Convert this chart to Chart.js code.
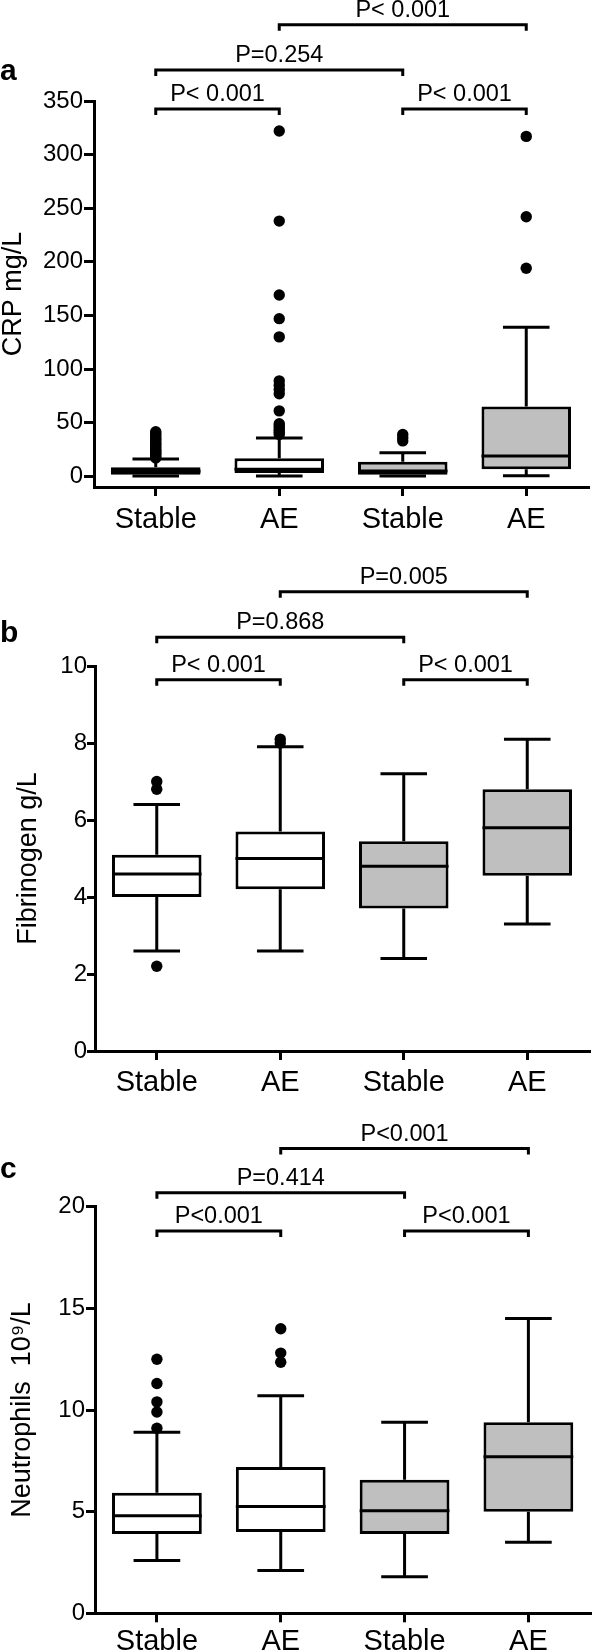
<!DOCTYPE html>
<html>
<head>
<meta charset="utf-8">
<script src="https://cdn.jsdelivr.net/npm/chart.js@4.4.1/dist/chart.umd.min.js"></script>
<style>
  html, body { margin: 0; padding: 0; background: #fff; }
  #wrap { position: relative; width: 596px; height: 1652px; overflow: hidden; }
  .panel { position: absolute; left: 0; width: 596px; }
  canvas { display: block; }
</style>
</head>
<body>
<div id="wrap">
  <div class="panel" style="top:0px"><canvas id="chartA" width="596" height="550"></canvas></div>
  <div class="panel" style="top:550px"><canvas id="chartB" width="596" height="560"></canvas></div>
  <div class="panel" style="top:1110px"><canvas id="chartC" width="596" height="542"></canvas></div>
</div>
<script>
var categories = ['Stable', 'AE', 'Stable', 'AE']
var boxColors = ['#ffffff', '#ffffff', '#bfbfbf', '#bfbfbf']

// a - CRP mg/L
var crpTicks = [0, 50, 100, 150, 200, 250, 300, 350]
var crpLow  = [0.3, 0.3, 0.3, 0.5]
var crpQ1   = [1.5, 3, 1.5, 6.5]
var crpMed  = [4.8, 6.5, 5, 19]
var crpQ3   = [8.5, 16.8, 13.5, 65]
var crpHigh = [16, 35.7, 22, 139]
var crpOutliers = [
  [17, 18.5, 20, 21, 22.5, 24, 25, 27, 28.5, 30, 31, 33, 34.5, 36, 38, 40, 41.5],
  [39, 41, 43, 45, 47, 49, 61, 77, 81, 85, 89, 130, 147, 169, 238, 322],
  [33, 36, 39],
  [194, 242, 317]
]
var crpBrackets = [[1, 3, 421, 'P< 0.001'], [0, 2, 379, 'P=0.254'], [0, 1, 342.6, 'P< 0.001'], [2, 3, 342.6, 'P< 0.001']]

// b - Fibrinogen g/L
var fibTicks = [0, 2, 4, 6, 8, 10]
var fibLow  = [2.6, 2.6, 2.4, 3.3]
var fibQ1   = [4.0, 4.2, 3.7, 4.55]
var fibMed  = [4.6, 5.0, 4.8, 5.8]
var fibQ3   = [5.1, 5.7, 5.45, 6.8]
var fibHigh = [6.4, 7.9, 7.2, 8.1]
var fibOutliers = [[2.2, 6.8, 7.0], [8.0, 8.1], [], []]
var fibBrackets = [[1, 3, 11.93, 'P=0.005'], [0, 2, 10.75, 'P=0.868'], [0, 1, 9.64, 'P< 0.001'], [2, 3, 9.64, 'P< 0.001']]

// c - Neutrophils 10^9/L
var neuTicks = [0, 5, 10, 15, 20]
var neuLow  = [2.6, 2.1, 1.8, 3.5]
var neuQ1   = [3.9, 4.0, 3.9, 5.0]
var neuMed  = [4.8, 5.25, 5.05, 7.7]
var neuQ3   = [5.93, 7.2, 6.57, 9.4]
var neuHigh = [8.9, 10.7, 9.4, 14.5]
var neuOutliers = [[9.1, 9.9, 10.4, 11.3, 12.5], [12.35, 12.8, 14.0], [], []]
var neuBrackets = [[1, 3, 22.86, 'P<0.001'], [0, 2, 20.69, 'P=0.414'], [0, 1, 18.8, 'P<0.001'], [2, 3, 18.8, 'P<0.001']]

var FONT = '"Liberation Sans", Arial, Helvetica, sans-serif'
Chart.defaults.font.family = FONT
Chart.defaults.color = '#000'

function makeBoxChart(id, p) {
  var outlierPoints = []
  p.outliers.forEach(function(list, i) {
    list.forEach(function(v) { outlierPoints.push({x: i, y: v}) })
  })

  var parts = {
    id: 'boxParts',
    afterDatasetsDraw: function(chart) {
      var ctx = chart.ctx, ys = chart.scales.y
      var bars = chart.getDatasetMeta(0).data
      ctx.save()
      ctx.strokeStyle = '#000'
      ctx.lineWidth = 3
      ctx.lineCap = 'butt'
      bars.forEach(function(bar, i) {
        var x = bar.x, w = bar.width, cap = w * 0.26
        var top = ys.getPixelForValue(p.q3[i]), bot = ys.getPixelForValue(p.q1[i])
        var hi = ys.getPixelForValue(p.high[i]), lo = ys.getPixelForValue(p.low[i])
        var med = ys.getPixelForValue(p.med[i])
        ctx.beginPath()
        ctx.moveTo(x, top); ctx.lineTo(x, hi)
        ctx.moveTo(x - cap, hi); ctx.lineTo(x + cap, hi)
        ctx.moveTo(x, bot); ctx.lineTo(x, lo)
        ctx.moveTo(x - cap, lo); ctx.lineTo(x + cap, lo)
        ctx.moveTo(x - w / 2, med); ctx.lineTo(x + w / 2, med)
        ctx.stroke()
      })
      ctx.restore()
    },
    afterDraw: function(chart) {
      var ctx = chart.ctx, xs = chart.scales.x, ys = chart.scales.y
      ctx.save()
      ctx.strokeStyle = '#000'
      ctx.fillStyle = '#000'
      ctx.lineWidth = 3
      ctx.lineJoin = 'miter'
      ctx.font = '23.5px ' + FONT
      ctx.textAlign = 'center'
      ctx.textBaseline = 'alphabetic'
      p.brackets.forEach(function(b) {
        var x1 = xs.getPixelForValue(b[0]), x2 = xs.getPixelForValue(b[1])
        var y = ys.getPixelForValue(b[2])
        ctx.beginPath()
        ctx.moveTo(x1, y + 6); ctx.lineTo(x1, y); ctx.lineTo(x2, y); ctx.lineTo(x2, y + 6)
        ctx.stroke()
        ctx.fillText(b[3], (x1 + x2) / 2, y - 8)
      })
      // panel letter
      ctx.font = 'bold 30px ' + FONT
      ctx.textAlign = 'left'
      ctx.fillText(p.letter, 0, p.letterY)
      ctx.restore()
    }
  }

  return new Chart(document.getElementById(id), {
    type: 'bar',
    data: {
      datasets: [
        {
          label: 'box',
          data: categories.map(function(c, i) { return {x: i, y: [p.q1[i], p.q3[i]]} }),
          backgroundColor: boxColors,
          borderColor: '#000',
          borderWidth: 3,
          borderSkipped: false,
          categoryPercentage: 1,
          barPercentage: 0.725
        },
        {
          type: 'scatter',
          label: 'outliers',
          data: outlierPoints,
          pointRadius: 5.7,
          pointHoverRadius: 5.7,
          pointBackgroundColor: '#000',
          pointBorderWidth: 0
        }
      ]
    },
    options: {
      responsive: false,
      animation: false,
      events: [],
      layout: { padding: { top: p.area.top, right: 596 - p.area.right, left: 0, bottom: 0 } },
      plugins: { legend: { display: false }, tooltip: { enabled: false } },
      scales: {
        x: {
          type: 'linear',
          min: -0.5,
          max: 3.5,
          offset: false,
          afterBuildTicks: function(axis) {
            axis.ticks = categories.map(function(c, i) { return {value: i} })
          },
          afterFit: function(s) { s.height = p.area.canvasH - p.area.bottom },
          ticks: {
            autoSkip: false, maxRotation: 0, minRotation: 0,
            padding: p.xPad,
            font: { size: 29, lineHeight: 1 },
            callback: function(v) { return categories[v] }
          },
          grid: { offset: false, drawOnChartArea: false, drawTicks: true, tickLength: 9, lineWidth: 3, color: '#000' },
          border: { display: true, width: 3, color: '#000' }
        },
        y: {
          type: 'linear',
          min: p.min,
          max: p.max,
          afterBuildTicks: function(axis) {
            axis.ticks = p.ticks.map(function(v) { return {value: v} })
          },
          afterFit: function(s) { s.width = p.area.left },
          ticks: { autoSkip: false, padding: p.yPad, font: { size: 24, lineHeight: 1 } },
          grid: { drawOnChartArea: false, drawTicks: true, tickLength: p.yTick, lineWidth: 3, color: '#000' },
          border: { display: true, width: 3, color: '#000' },
          title: { display: true, text: p.title, font: { size: 27, lineHeight: 1 }, padding: { top: p.titlePad, bottom: 0 } }
        }
      }
    },
    plugins: [parts]
  })
}

makeBoxChart('chartA', {
  low: crpLow, q1: crpQ1, med: crpMed, q3: crpQ3, high: crpHigh, outliers: crpOutliers,
  ticks: crpTicks, min: -10, max: 350, brackets: crpBrackets,
  title: 'CRP mg/L', titlePad: 0, letter: 'a', letterY: 80,
  area: { left: 94, right: 588, top: 101, bottom: 487, canvasH: 550 },
  xPad: 9.5, yPad: 1, yTick: 10
})

makeBoxChart('chartB', {
  low: fibLow, q1: fibQ1, med: fibMed, q3: fibQ3, high: fibHigh, outliers: fibOutliers,
  ticks: fibTicks, min: 0, max: 10, brackets: fibBrackets,
  title: 'Fibrinogen g/L', titlePad: 15, letter: 'b', letterY: 92,
  area: { left: 95, right: 589, top: 116, bottom: 501, canvasH: 560 },
  xPad: 8.5, yPad: 0, yTick: 8
})

makeBoxChart('chartC', {
  low: neuLow, q1: neuQ1, med: neuMed, q3: neuQ3, high: neuHigh, outliers: neuOutliers,
  ticks: neuTicks, min: 0, max: 20, brackets: neuBrackets,
  title: 'Neutrophils  10\u2079/L', titlePad: 9, letter: 'c', letterY: 68,
  area: { left: 95, right: 594, top: 96.7, bottom: 503.3, canvasH: 542 },
  xPad: 5.5, yPad: 1, yTick: 9
})
</script>
</body>
</html>
